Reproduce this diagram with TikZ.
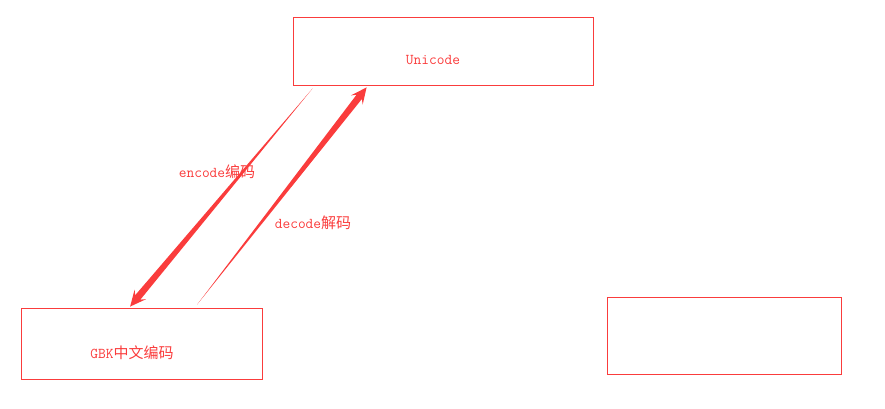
\documentclass[tikz,border=0pt]{standalone}
\usepackage{fontspec}
\newfontfamily\cjk{Noto Sans CJK SC}
\usepackage{tikz}
\usetikzlibrary{calc, positioning}
\definecolor{codered}{RGB}{250,60,60}
\tikzstyle{box}=[draw=codered, line width=0.8pt, rectangle, inner sep=0pt]
\tikzstyle{txt}=[text=codered, font=\fontsize{15}{17}\selectfont\ttfamily, inner sep=0pt]
% tapered brush arrow from #1 to #2
\newcommand{\taper}[2]{%
	\coordinate (#1-s) at ($(#2)!12pt!(#1)$);
	\coordinate (#1-w) at ($(#2)!16pt!(#1)$);
	\fill[codered] (#1) -- ($(#1-s)!3.4pt!90:(#2)$) -- ($(#1-w)!7.5pt!90:(#2)$) -- (#2)
		-- ($(#1-w)!7.5pt!-90:(#2)$) -- ($(#1-s)!3.4pt!-90:(#2)$) -- cycle;
}
\begin{document}
\begin{tikzpicture}[x=1pt, y=-1pt]
		\useasboundingbox (0,0) rectangle (885,408);
		% Draw the boxes
		\node[box, minimum width=300pt, minimum height=68pt] (U) at (443,51) {};
		\node[box, minimum width=241pt, minimum height=71pt] (G) at (142,343.5) {};
		\node[box, minimum width=234pt, minimum height=77pt] (R) at (724,335.5) {};
		\node[txt] (U-txt) at ($(U.center)+(-10,9)$) {Unicode};
		\node[txt] (G-txt) at ($(G.center)+(-10,9)$) {GBK{\cjk 中文编码}};
		% Draw the arrows between the boxes
		\coordinate (E) at ($(U.south west)+(20,3)$);
		\coordinate (E-t) at ($(G.north west)+(109,-1)$);
		\coordinate (D) at ($(G.north west)+(176,-3)$);
		\coordinate (D-t) at ($(U.south west)+(74,2)$);
		\taper{E}{E-t}
		\taper{D}{D-t}
		\node[txt] (enc) at (217,172) {encode{\cjk 编码}};
		\node[txt] (dec) at (313,223) {decode{\cjk 解码}};
	\end{tikzpicture}
\end{document}
